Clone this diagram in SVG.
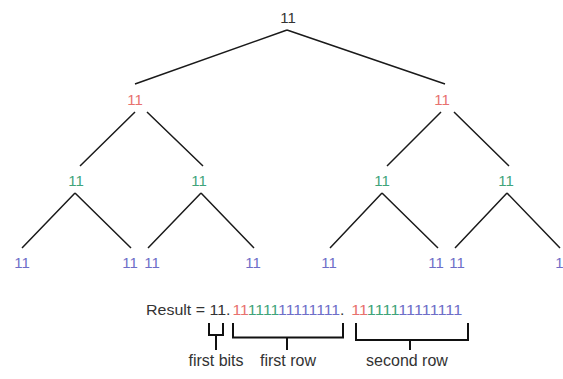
<svg xmlns="http://www.w3.org/2000/svg" width="563" height="379" viewBox="0 0 563 379">
<style>
text{font-family:"Liberation Sans",Arial,sans-serif;font-size:15px}
.n{text-anchor:middle}
.k{fill:#333333}
.r{fill:#e8716e}
.g{fill:#3fa47a}
.b{fill:#6e6ec8}
.e{stroke:#1a1a1a;stroke-width:1.5;fill:none}
.br{stroke:#111111;stroke-width:2;fill:none}
.res{font-size:14px}
.lbl{font-size:16px}
</style>
<rect width="563" height="379" fill="#ffffff"/>
<g id="connectors">
<path class="e" d="M287,30 L135,84 M287,30 L445,84"/>
<path class="e" d="M135,112 L80,166 M147,112 L203,166 M441,112 L387,166 M454,112 L509,166"/>
<path class="e" d="M75,193 L22,248 M75,193 L131,248 M201,193 L148,248 M201,193 L254,248 M382,193 L330,248 M382,193 L438,248 M507,193 L455,248 M507,193 L560,248"/>
</g>
<g id="root"><text class="n k" x="288" y="23">11</text></g>
<g id="r1"><text class="n r" x="135" y="105">11</text></g>
<g id="r2"><text class="n r" x="442" y="105">11</text></g>
<g id="g1"><text class="n g" x="76" y="186">11</text></g>
<g id="g2"><text class="n g" x="199" y="186">11</text></g>
<g id="g3"><text class="n g" x="382" y="186">11</text></g>
<g id="g4"><text class="n g" x="506" y="186">11</text></g>
<g id="l1"><text class="n b" x="22" y="268">11</text></g>
<g id="l2"><text class="n b" x="130" y="268">11</text></g>
<g id="l3"><text class="n b" x="152" y="268">11</text></g>
<g id="l4"><text class="n b" x="253" y="268">11</text></g>
<g id="l5"><text class="n b" x="329" y="268">11</text></g>
<g id="l6"><text class="n b" x="436" y="268">11</text></g>
<g id="l7"><text class="n b" x="457" y="268">11</text></g>
<g id="l8"><text class="n b" x="563" y="268">11</text></g>
<g id="result">
<text class="k" x="146" y="315" textLength="84.5" lengthAdjust="spacingAndGlyphs">Result = 11.</text>
<text class="res" x="232.5" y="315" textLength="112" lengthAdjust="spacingAndGlyphs"><tspan class="r">11</tspan><tspan class="g">1111</tspan><tspan class="b">11111111</tspan><tspan class="k">.</tspan></text>
<text class="res" x="351.2" y="315" textLength="111" lengthAdjust="spacingAndGlyphs"><tspan class="r">11</tspan><tspan class="g">1111</tspan><tspan class="b">11111111</tspan></text>
</g>
<g id="bracket-first-bits">
<path class="br" d="M209,323 V335 H223 V323 M216,335 V350"/>
<text class="n k lbl" x="216" y="366">first bits</text>
</g>
<g id="bracket-first-row">
<path class="br" d="M233,323 V337.5 H343 V323 M287,337.5 V350"/>
<text class="n k lbl" x="288" y="366">first row</text>
</g>
<g id="bracket-second-row">
<path class="br" d="M356,323 V340 H468 V323 M410,340 V350"/>
<text class="n k lbl" x="407" y="366">second row</text>
</g>
</svg>
